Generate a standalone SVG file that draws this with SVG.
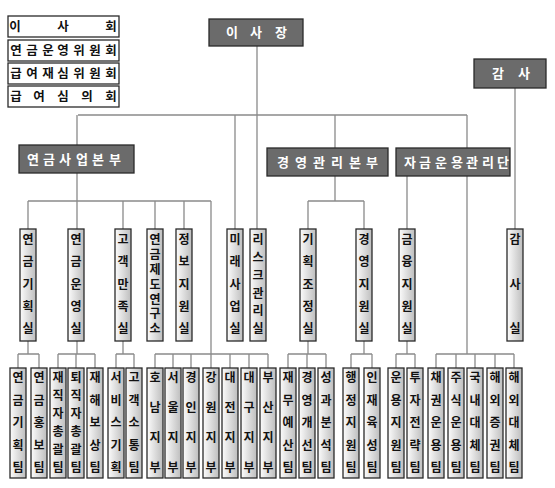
<svg xmlns="http://www.w3.org/2000/svg" width="555" height="488" viewBox="0 0 555 488">
<style>
.ln{stroke:#8a8a8a;stroke-width:1.3;fill:none}
.vb{fill:url(#vg);stroke:#2a2a2a;stroke-width:1.3}
.hb{fill:#6b6b6b;stroke:#2a2a2a;stroke-width:1.3}
.wb{fill:#fff;stroke:#2a2a2a;stroke-width:1.3}
text{font-family:"Noto Sans CJK KR","Noto Sans",sans-serif;font-weight:700;text-anchor:middle}
.vt{font-size:12px;fill:#111}
.ht{font-size:13px;fill:#fff}
.wt{font-size:12.5px;fill:#111}
</style>
<defs>
<linearGradient id="vg" x1="0" y1="0" x2="1" y2="0">
<stop offset="0" stop-color="#fcfcfc"/>
<stop offset="1" stop-color="#bdbdbd"/>
</linearGradient>
</defs>
<g id="connectors">
<path class="ln" d="M78 115H467M257 46V229M235 115V229M335 115V201M467 115V354M77 115V354M515 88V229"/>
<path class="ln" d="M28 201H211M28 201V229M123 201V229M155 201V229M184 201V229M211 201V354"/>
<path class="ln" d="M308 201H364M308 201V229M364 201V229M407 176V229"/>
<path class="ln" d="M28 341V354M18 354H39M18 354V368M39 354V368"/>
<path class="ln" d="M58 354H95M58 354V368M76 354V368M95 354V368"/>
<path class="ln" d="M123 341V354M116 354H134M116 354V368M134 354V368"/>
<path class="ln" d="M155 354H268M155 354V368M173 354V368M191 354V368M211 354V368M230 354V368M249 354V368M268 354V368"/>
<path class="ln" d="M308 341V354M288 354H326M288 354V368M307 354V368M326 354V368"/>
<path class="ln" d="M364 341V354M351 354H372M351 354V368M372 354V368"/>
<path class="ln" d="M407 341V354M396 354H415M396 354V368M415 354V368"/>
<path class="ln" d="M436 354H514M436 354V368M456 354V368M475 354V368M495 354V368M514 354V368"/>
</g>
<g id="committees">
<g id="n-board"><rect class="wb" x="8" y="16" width="111" height="21"/><text class="wt" x="15 63 111" y="31">이사회</text></g>
<g id="n-fund-committee"><rect class="wb" x="8" y="40" width="111" height="21"/><text class="wt" x="16 32 48 63 79 95 111" y="55">연금운영위원회</text></g>
<g id="n-review-committee"><rect class="wb" x="8" y="63" width="111" height="21"/><text class="wt" x="16 32 48 63 79 95 111" y="78">급여재심위원회</text></g>
<g id="n-benefit-committee"><rect class="wb" x="8" y="86" width="111" height="21"/><text class="wt" x="16 39 63 87 111" y="101">급여심의회</text></g>
</g>
<g id="n-chair"><rect class="hb" x="209" y="19" width="94" height="27"/><text class="ht" x="232 256 281" y="37">이사장</text></g>
<g id="n-audit"><rect class="hb" x="474" y="59" width="72" height="29"/><text class="ht" x="498 524" y="78">감사</text></g>
<g id="n-pension-hq"><rect class="hb" x="19" y="145" width="115" height="28"/><text class="ht" x="33 49 65 82 98 115" y="164">연금사업본부</text></g>
<g id="n-mgmt-hq"><rect class="hb" x="267" y="148" width="121" height="28"/><text class="ht" x="283 301 319 337 355 372" y="167">경영관리본부</text></g>
<g id="n-fund-hq"><rect class="hb" x="396" y="148" width="114" height="28"/><text class="ht" x="410 425 441 457 472 488 503" y="167">자금운용관리단</text></g>
<g id="offices">
<g id="n-o1"><rect class="vb" x="20" y="229" width="16" height="112"/><text class="vt" x="28 28 28 28 28" y="244 266 289 311 333">연금기획실</text></g>
<g id="n-o2"><rect class="vb" x="68" y="229" width="16" height="112"/><text class="vt" x="76 76 76 76 76" y="244 266 289 311 333">연금운영실</text></g>
<g id="n-o3"><rect class="vb" x="115" y="229" width="16" height="112"/><text class="vt" x="123 123 123 123 123" y="244 266 289 311 333">고객만족실</text></g>
<g id="n-o4"><rect class="vb" x="147" y="229" width="16" height="112"/><text class="vt" x="155 155 155 155 155 155 155" y="244 259 274 289 304 318 333">연금제도연구소</text></g>
<g id="n-o5"><rect class="vb" x="176" y="229" width="16" height="112"/><text class="vt" x="184 184 184 184 184" y="244 266 289 311 333">정보지원실</text></g>
<g id="n-o6"><rect class="vb" x="227" y="229" width="16" height="112"/><text class="vt" x="235 235 235 235 235" y="244 266 289 311 333">미래사업실</text></g>
<g id="n-o7"><rect class="vb" x="250" y="229" width="16" height="112"/><text class="vt" x="258 258 258 258 258 258" y="244 262 280 298 315 333">리스크관리실</text></g>
<g id="n-o8"><rect class="vb" x="300" y="229" width="16" height="112"/><text class="vt" x="308 308 308 308 308" y="244 266 289 311 333">기획조정실</text></g>
<g id="n-o9"><rect class="vb" x="356" y="229" width="16" height="112"/><text class="vt" x="364 364 364 364 364" y="244 266 289 311 333">경영지원실</text></g>
<g id="n-o10"><rect class="vb" x="399" y="229" width="16" height="112"/><text class="vt" x="407 407 407 407 407" y="244 266 289 311 333">금융지원실</text></g>
<g id="n-o11"><rect class="vb" x="507" y="229" width="16" height="112"/><text class="vt" x="515 515 515" y="244 289 333">감사실</text></g>
</g>
<g id="teams">
<g id="n-t1"><rect class="vb" x="10" y="368" width="16" height="110"/><text class="vt" x="18 18 18 18 18" y="382 405 427 450 472">연금기획팀</text></g>
<g id="n-t2"><rect class="vb" x="31" y="368" width="16" height="110"/><text class="vt" x="39 39 39 39 39" y="382 405 427 450 472">연금홍보팀</text></g>
<g id="n-t3"><rect class="vb" x="50" y="368" width="16" height="110"/><text class="vt" x="58 58 58 58 58 58" y="382 400 418 436 454 472">재직자총괄팀</text></g>
<g id="n-t4"><rect class="vb" x="68" y="368" width="16" height="110"/><text class="vt" x="76 76 76 76 76 76" y="382 400 418 436 454 472">퇴직자총괄팀</text></g>
<g id="n-t5"><rect class="vb" x="87" y="368" width="16" height="110"/><text class="vt" x="95 95 95 95 95" y="382 405 427 450 472">재해보상팀</text></g>
<g id="n-t6"><rect class="vb" x="108" y="368" width="16" height="110"/><text class="vt" x="116 116 116 116 116" y="382 405 427 450 472">서비스기획</text></g>
<g id="n-t7"><rect class="vb" x="126" y="368" width="16" height="110"/><text class="vt" x="134 134 134 134 134" y="382 405 427 450 472">고객소통팀</text></g>
<g id="n-t8"><rect class="vb" x="147" y="368" width="16" height="110"/><text class="vt" x="155 155 155 155" y="382 412 442 472">호남지부</text></g>
<g id="n-t9"><rect class="vb" x="165" y="368" width="16" height="110"/><text class="vt" x="173 173 173 173" y="382 412 442 472">서울지부</text></g>
<g id="n-t10"><rect class="vb" x="183" y="368" width="16" height="110"/><text class="vt" x="191 191 191 191" y="382 412 442 472">경인지부</text></g>
<g id="n-t11"><rect class="vb" x="203" y="368" width="16" height="110"/><text class="vt" x="211 211 211 211" y="382 412 442 472">강원지부</text></g>
<g id="n-t12"><rect class="vb" x="222" y="368" width="16" height="110"/><text class="vt" x="230 230 230 230" y="382 412 442 472">대전지부</text></g>
<g id="n-t13"><rect class="vb" x="241" y="368" width="16" height="110"/><text class="vt" x="249 249 249 249" y="382 412 442 472">대구지부</text></g>
<g id="n-t14"><rect class="vb" x="260" y="368" width="16" height="110"/><text class="vt" x="268 268 268 268" y="382 412 442 472">부산지부</text></g>
<g id="n-t15"><rect class="vb" x="280" y="368" width="16" height="110"/><text class="vt" x="288 288 288 288 288" y="382 405 427 450 472">재무예산팀</text></g>
<g id="n-t16"><rect class="vb" x="299" y="368" width="16" height="110"/><text class="vt" x="307 307 307 307 307" y="382 405 427 450 472">경영개선팀</text></g>
<g id="n-t17"><rect class="vb" x="318" y="368" width="16" height="110"/><text class="vt" x="326 326 326 326 326" y="382 405 427 450 472">성과분석팀</text></g>
<g id="n-t18"><rect class="vb" x="343" y="368" width="16" height="110"/><text class="vt" x="351 351 351 351 351" y="382 405 427 450 472">행정지원팀</text></g>
<g id="n-t19"><rect class="vb" x="364" y="368" width="16" height="110"/><text class="vt" x="372 372 372 372 372" y="382 405 427 450 472">인재육성팀</text></g>
<g id="n-t20"><rect class="vb" x="388" y="368" width="16" height="110"/><text class="vt" x="396 396 396 396 396" y="382 405 427 450 472">운용지원팀</text></g>
<g id="n-t21"><rect class="vb" x="407" y="368" width="16" height="110"/><text class="vt" x="415 415 415 415 415" y="382 405 427 450 472">투자전략팀</text></g>
<g id="n-t22"><rect class="vb" x="428" y="368" width="16" height="110"/><text class="vt" x="436 436 436 436 436" y="382 405 427 450 472">채권운용팀</text></g>
<g id="n-t23"><rect class="vb" x="448" y="368" width="16" height="110"/><text class="vt" x="456 456 456 456 456" y="382 405 427 450 472">주식운용팀</text></g>
<g id="n-t24"><rect class="vb" x="467" y="368" width="16" height="110"/><text class="vt" x="475 475 475 475 475" y="382 405 427 450 472">국내대체팀</text></g>
<g id="n-t25"><rect class="vb" x="487" y="368" width="16" height="110"/><text class="vt" x="495 495 495 495 495" y="382 405 427 450 472">해외증권팀</text></g>
<g id="n-t26"><rect class="vb" x="506" y="368" width="16" height="110"/><text class="vt" x="514 514 514 514 514" y="382 405 427 450 472">해외대체팀</text></g>
</g>
</svg>
